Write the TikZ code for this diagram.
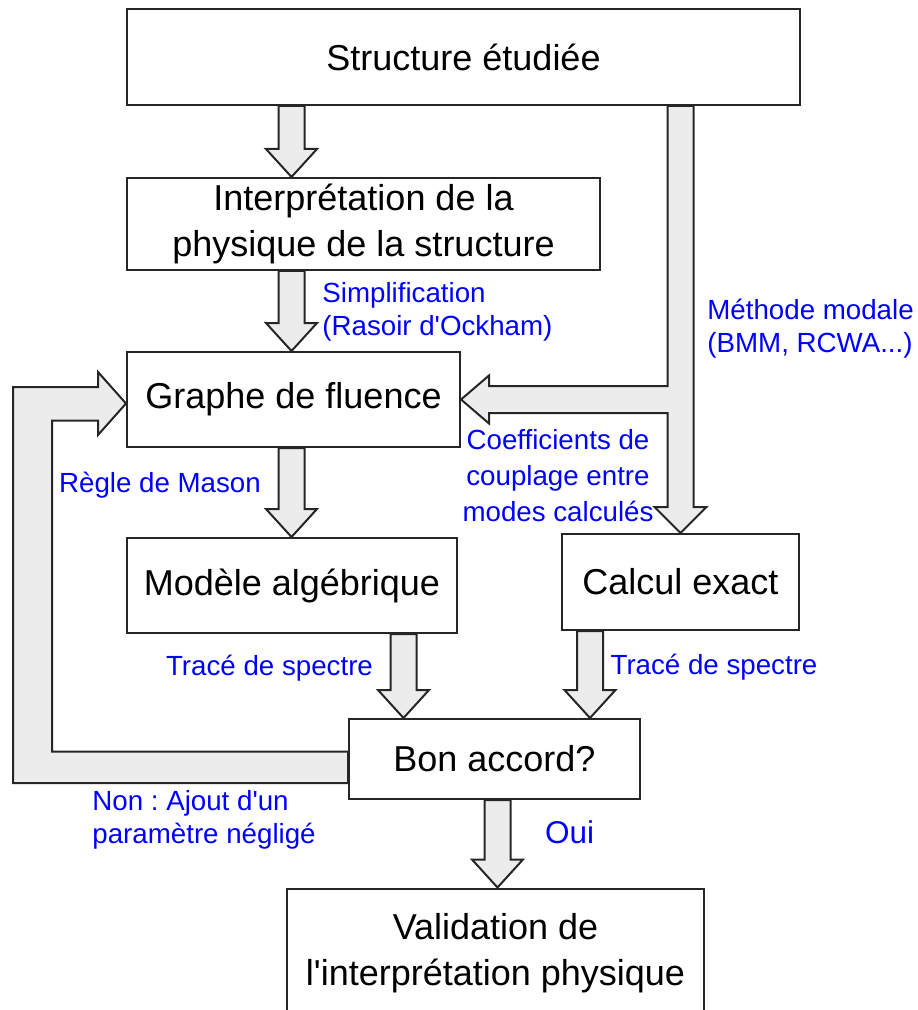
\documentclass[tikz,border=0pt]{standalone}
\usepackage{fontspec}
\setmainfont{Liberation Sans}[Ligatures=TeXOff]
\usetikzlibrary{calc}
\frenchspacing

% hollow vertical arrow from #1 down to its tip #2
\newcommand{\fatdown}[2]{%
    \draw[fatarrow] let \p1=(#1), \p2=(#2) in
        (\x2-6.5pt,\y1) -- (\x2-6.5pt,\y2+14pt) -- (\x2-12.75pt,\y2+14pt) -- (\p2)
        -- (\x2+12.75pt,\y2+14pt) -- (\x2+6.5pt,\y2+14pt) -- (\x2+6.5pt,\y1) -- cycle;
}

\begin{document}
\begin{tikzpicture}[
    x=0.5pt,
    y=-0.5pt,
    box/.style={draw=black!85, line width=1pt, fill=white, align=center,
        inner sep=0pt, font=\fontsize{18}{23}\selectfont},
    note/.style={text=blue, inner sep=0pt, font=\fontsize{13.85}{16.5}\selectfont},
    fatarrow/.style={draw=black!85, fill=gray!15, line width=1pt, line join=miter},
]
    \useasboundingbox (0,0) rectangle (917,1010);
    \clip (0,0) rectangle (917,1010);

    % columns of the arrows
    \coordinate (colA) at (291.5,0);
    \coordinate (colB) at (403.5,0);
    \coordinate (colC) at (590,0);
    \coordinate (colD) at (497.5,0);
    \coordinate (colL) at (32.5,0);

    \node[box, minimum width=336.5pt, minimum height=48pt]   (struct) at (463.5,57)    {Structure étudiée};
    \node[box, minimum width=236.5pt, minimum height=46pt]   (interp) at (363.5,224)   {Interprétation de la\\physique de la structure};
    \node[box, minimum width=166.5pt, minimum height=47.5pt] (graphe) at (293.5,399.5) {Graphe de fluence};
    \node[box, minimum width=165pt,   minimum height=47.5pt] (modele) at (292,585.5)   {Modèle algébrique};
    \node[box, minimum width=118.5pt, minimum height=48pt]   (calcul) at (680.5,582)   {Calcul exact};
    \node[box, minimum width=145.5pt, minimum height=40pt]   (bon)    at (494.5,759)   {Bon accord?};
    \node[box, minimum width=208.5pt, minimum height=64.5pt] (valid)  at (495.5,953) {Validation de\\l'interprétation physique};

    % labels
    \node[note, anchor=west, align=left] (simpl)   at (322,311.5) {Simplification\\(Rasoir d'Ockham)};
    \node[note, anchor=west, align=left] (methode) at (707,328.5) {Méthode modale\\(BMM, RCWA...)};
    \node[note, align=center, font=\fontsize{13.85}{18}\selectfont] (coeff) at (558,476) {Coefficients de\\couplage entre\\modes calculés};
    \node[note] (mason)  at (160,485)   {Règle de Mason};
    \node[note] (trace1) at (269.5,668) {Tracé de spectre};
    \node[note] (trace2) at (714,667)   {Tracé de spectre};
    \node[note, anchor=west, align=left] (non) at (92,819.5) {Non : Ajout d'un\\paramètre négligé};
    \node[note, font=\fontsize{15.75}{18}\selectfont] (oui) at (569.5,832) {Oui};

    % straight arrows
    \fatdown{struct.south -| colA}{interp.north -| colA}
    \fatdown{interp.south -| colA}{graphe.north -| colA}
    \fatdown{graphe.south -| colA}{modele.north -| colA}
    \fatdown{modele.south -| colB}{bon.north -| colB}
    \fatdown{calcul.south -| colC}{bon.north -| colC}
    \fatdown{bon.south -| colD}{valid.north -| colD}

    % modal method branch
    \draw[fatarrow] let \p1=(struct.south -| calcul.north), \p2=(graphe.east), \p3=(calcul.north) in
        (\x3-6.5pt,\y1) -- (\x3-6.5pt,\y2+6.75pt) -- (\x2+14pt,\y2+6.75pt) -- (\x2+14pt,\y2+12pt)
        -- (\p2) -- (\x2+14pt,\y2-12pt) -- (\x2+14pt,\y2-6.75pt) -- (\x3-6.5pt,\y2-6.75pt)
        -- (\x3-6.5pt,\y3+13pt) -- (\x3-13pt,\y3+13pt) -- (\p3) -- (\x3+13pt,\y3+13pt)
        -- (\x3+6.5pt,\y3+13pt) -- (\x3+6.5pt,\y1) -- cycle;

    % feedback loop
    \coordinate (fbin)  at ($(bon.west)+(0,8)$);
    \coordinate (fbout) at ($(graphe.west)+(0,4)$);
    \draw[fatarrow] let \p1=(fbin), \p2=(fbout), \p3=(colL) in
        (\x1,\y1+7.75pt) -- (\x3+9.75pt,\y1+7.75pt) -- (\x3+9.75pt,\y2-8.5pt) -- (\x2-14pt,\y2-8.5pt)
        -- (\x2-14pt,\y2-15.75pt) -- (\p2) -- (\x2-14pt,\y2+15.75pt) -- (\x2-14pt,\y2+8.25pt)
        -- (\x3-9.75pt,\y2+8.25pt) -- (\x3-9.75pt,\y1-8pt) -- (\x1,\y1-8pt) -- cycle;
\end{tikzpicture}
\end{document}
